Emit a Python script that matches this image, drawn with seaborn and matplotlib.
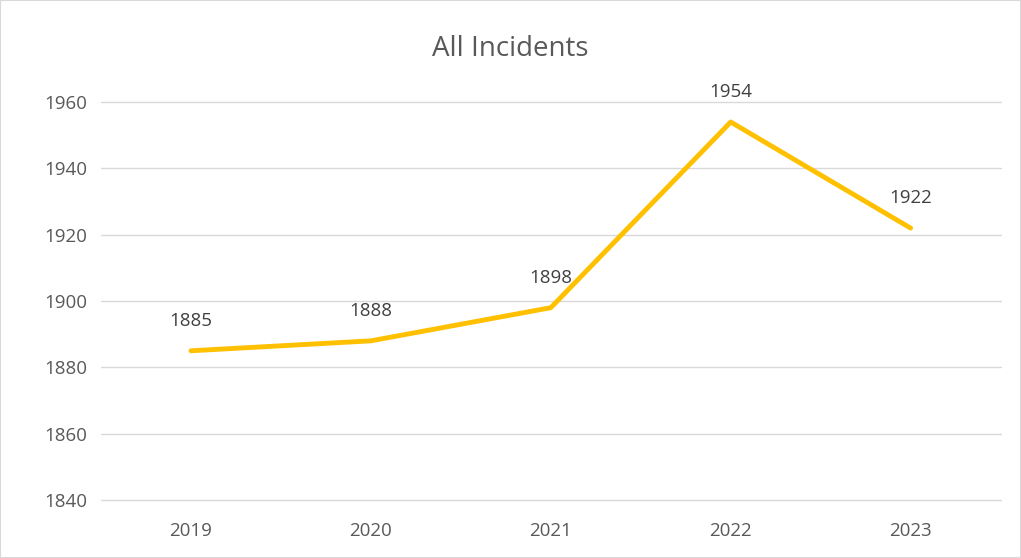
import matplotlib
matplotlib.use("Agg")
import matplotlib.pyplot as plt
import seaborn as sns
import pandas as pd
from matplotlib.patches import Rectangle

years = ["2019", "2020", "2021", "2022", "2023"]
incidents = [1885, 1888, 1898, 1954, 1922]
yticks = [1840, 1860, 1880, 1900, 1920, 1940, 1960]
title = "All Incidents"

sns.set_theme(style="white")
plt.rcParams['font.family'] = ['Open Sans', 'DejaVu Sans']

df = pd.DataFrame({"year": years, "value": incidents})

fig = plt.figure(figsize=(10.21, 5.58), dpi=100)
ax = fig.add_axes([0.099, 0.104, 0.881, 0.713])

sns.lineplot(data=df, x="year", y="value", ax=ax, color="#FFC000", linewidth=3.5, sort=False)

ax.set_xlim(-0.5, len(years) - 0.5)
ax.set_ylim(1840, 1960)
ax.set_yticks(yticks)
ax.yaxis.grid(True, color="#D9D9D9", linewidth=1)
ax.xaxis.grid(False)
for gl in ax.get_ygridlines():
    gl.set_clip_on(False)
for s in ax.spines.values():
    s.set_visible(False)
ax.tick_params(axis="y", length=0, labelsize=13.5, colors="#595959", pad=10)
ax.tick_params(axis="x", length=0, labelsize=13.5, colors="#595959", pad=16)
ax.set_xlabel("")
ax.set_ylabel("")

for i, v in enumerate(incidents):
    ax.annotate(str(v), (i, v), xytext=(0, 15), textcoords="offset points",
                ha="center", va="bottom", fontsize=13.5, color="#404040")

fig.text(0.5, 0.913, title, ha="center", va="center", fontsize=20, color="#595959")
fig.patches.append(Rectangle((0, 0), 1, 1, transform=fig.transFigure, fill=False,
                             edgecolor="#D9D9D9", linewidth=1.5))

fig.savefig("out.png", dpi=100)
